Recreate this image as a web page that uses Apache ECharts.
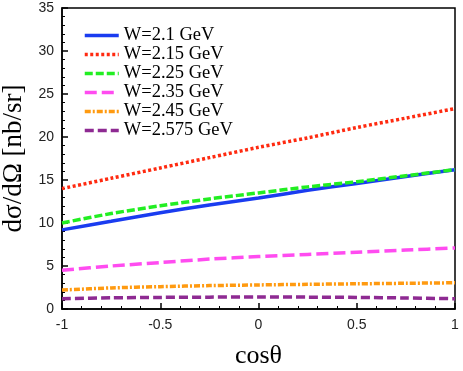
<!DOCTYPE html>
<html>
<head>
<meta charset="utf-8">
<script src="https://cdn.jsdelivr.net/npm/echarts@6/dist/echarts.min.js"></script>
<style>
  html, body { margin: 0; padding: 0; background: #fff; }
  #chart-container { width: 463px; height: 371px; }
</style>
</head>
<body>
<div id="chart-container"></div>
<script>
// cos(theta) sample points
let cosTheta = [-1, -0.75, -0.5, -0.25, 0, 0.25, 0.5, 0.75, 1];

let w210 = [9.2, 10.2, 11.2, 12.1, 12.9, 13.8, 14.6, 15.4, 16.2];
let w215 = [14.0, 15.2, 16.4, 17.6, 18.8, 19.9, 21.1, 22.2, 23.3];
let w225 = [10.0, 11.1, 12.0, 12.8, 13.5, 14.2, 14.8, 15.5, 16.2];
let w235 = [4.5, 5.0, 5.4, 5.8, 6.1, 6.35, 6.6, 6.85, 7.1];
let w245 = [2.2, 2.45, 2.6, 2.72, 2.8, 2.87, 2.93, 2.99, 3.05];
let w2575 = [1.2, 1.3, 1.35, 1.38, 1.4, 1.38, 1.35, 1.28, 1.2];

let names = ['W=2.1 GeV', 'W=2.15 GeV', 'W=2.25 GeV', 'W=2.35 GeV', 'W=2.45 GeV', 'W=2.575 GeV'];

let serif = "'Liberation Serif', 'Times New Roman', serif";
let sans = "'Liberation Sans', Arial, sans-serif";

let dom = document.getElementById('chart-container');
let myChart = echarts.init(dom, null, { renderer: 'canvas' });

function pairs(arr) {
    return arr.map(function(v, i) { return [cosTheta[i], v]; });
}

function makeSeries(name, data, color, type) {
    return {
        name: name,
        type: 'line',
        smooth: 0.3,
        symbol: 'none',
        data: pairs(data),
        lineStyle: { color: color, width: 3.5, type: type },
        itemStyle: { color: color }
    };
}

let option = {
    animation: false,
    grid: {
        left: 62, right: 8, top: 8, bottom: 62,
        outerBoundsMode: 'none',
        show: true, borderColor: '#000', borderWidth: 1.5
    },
    legend: {
        orient: 'vertical',
        left: 78,
        top: 21,
        itemWidth: 34,
        itemHeight: 14,
        itemGap: 0,
        data: names,
        itemStyle: { opacity: 0 },
        lineStyle: { width: 3.5 },
        textStyle: { fontFamily: serif, fontSize: 18.5, lineHeight: 19, color: '#000' }
    },
    xAxis: {
        type: 'value',
        min: -1, max: 1, interval: 0.5,
        name: 'cosθ',
        nameLocation: 'middle',
        nameGap: 34,
        nameTextStyle: { fontFamily: serif, fontSize: 26, color: '#000' },
        axisLine: { onZero: false, lineStyle: { color: '#000', width: 1.5 } },
        axisTick: { inside: true, length: 6, lineStyle: { color: '#000', width: 1.5 } },
        minorTick: { show: true, splitNumber: 5, length: 3, lineStyle: { color: '#000' } },
        splitLine: { show: false },
        axisLabel: {
            fontFamily: sans, fontSize: 14, color: '#222', margin: 9,
            formatter: function(v) { return String(v); }
        }
    },
    yAxis: {
        type: 'value',
        min: 0, max: 35, interval: 5,
        name: 'dσ/dΩ [nb/sr]',
        nameLocation: 'middle',
        nameGap: 27,
        nameTextStyle: { fontFamily: serif, fontSize: 27, color: '#000' },
        axisLine: { show: true, onZero: false, lineStyle: { color: '#000', width: 1.5 } },
        axisTick: { show: true, inside: true, length: 6, lineStyle: { color: '#000', width: 1.5 } },
        minorTick: { show: true, splitNumber: 5, length: 3, lineStyle: { color: '#000' } },
        splitLine: { show: false },
        axisLabel: { fontFamily: sans, fontSize: 14, color: '#222', margin: 8 }
    },
    series: [
        makeSeries(names[0], w210, '#1a3cf0', 'solid'),
        makeSeries(names[1], w215, '#ff2a10', [3, 2.5]),
        makeSeries(names[2], w225, '#22ee22', [8, 3]),
        makeSeries(names[3], w235, '#ff4cf0', [12, 5]),
        makeSeries(names[4], w245, '#ff9a10', [6, 2, 2, 2]),
        makeSeries(names[5], w2575, '#8e2a92', [9, 4])
    ]
};

myChart.setOption(option);
window.addEventListener('resize', myChart.resize);
</script>
</body>
</html>
